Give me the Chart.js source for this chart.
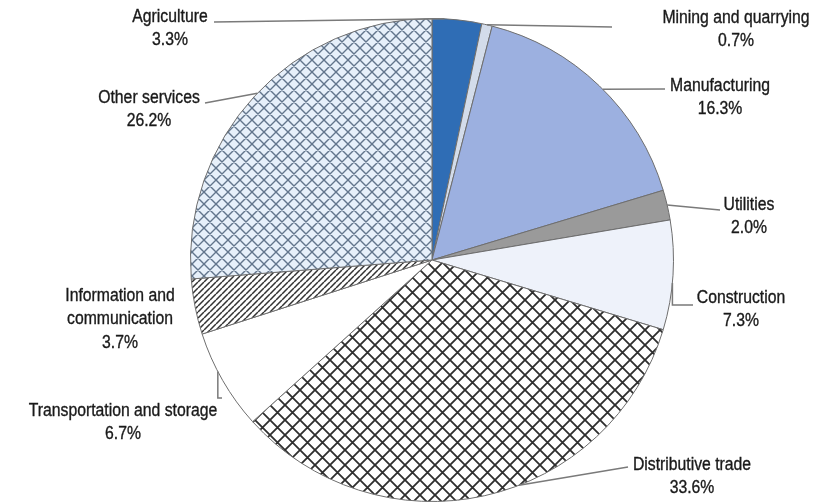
<!DOCTYPE html>
<html>
<head>
<meta charset="utf-8">
<script src="https://cdn.jsdelivr.net/npm/chart.js@4/dist/chart.umd.min.js"></script>
<style>
  html, body { margin: 0; padding: 0; background: #fff; }
  #wrap { width: 828px; height: 504px; }
</style>
</head>
<body>
<div id="wrap"><canvas id="pie" width="828" height="504"></canvas></div>
<script>
// Sector shares of gross value added (%)
const sectors = ["Agriculture", "Mining and quarrying", "Manufacturing", "Utilities", "Construction",
                 "Distributive trade", "Transportation and storage", "Information and communication", "Other services"];
const shares = [3.3, 0.7, 16.3, 2.0, 7.3, 33.6, 6.7, 3.7, 26.2];
const labelLines = [["Agriculture"], ["Mining and quarrying"], ["Manufacturing"], ["Utilities"], ["Construction"],
                    ["Distributive trade"], ["Transportation and storage"], ["Information and", "communication"], ["Other services"]];

// pattern helpers
function crossHatch(size, bg, fg, lw) {
  const c = document.createElement("canvas");
  c.width = size; c.height = size;
  const g = c.getContext("2d");
  g.fillStyle = bg; g.fillRect(0, 0, size, size);
  g.strokeStyle = fg; g.lineWidth = lw;
  g.beginPath();
  for (let k = -1; k <= 1; k++) {
    g.moveTo(k * size, 0); g.lineTo(k * size + size, size);
    g.moveTo(k * size, size); g.lineTo(k * size + size, 0);
  }
  g.stroke();
  return g.createPattern(c, "repeat");
}
function diagHatch(size, bg, fg, lw) {
  const c = document.createElement("canvas");
  c.width = size; c.height = size;
  const g = c.getContext("2d");
  g.fillStyle = bg; g.fillRect(0, 0, size, size);
  g.strokeStyle = fg; g.lineWidth = lw;
  g.beginPath();
  for (let k = -1; k <= 1; k++) {
    g.moveTo(k * size, size); g.lineTo(k * size + size, 0);
  }
  g.stroke();
  return g.createPattern(c, "repeat");
}

const ctx0 = document.getElementById("pie").getContext("2d");
const fills = [
  "#2f6db5",
  "#d3dcea",
  "#9cb0e0",
  "#9a9a9a",
  "#eef2fa",
  crossHatch(15, "#ffffff", "#2e2e2e", 1.8),
  "#ffffff",
  diagHatch(6, "#ffffff", "#333333", 1.5),
  crossHatch(12, "#e7f0fa", "#62758c", 1.4)
];

// label placement: text centre, first line y, leader end near text, position along slice
const labelPos = [
  { x: 170, y: 17, end: [214, 22], frac: 0.25 },
  { x: 736, y: 18, end: [612, 27], frac: 0.5 },
  { x: 720, y: 86, end: [665, 89], frac: 0.52 },
  { x: 749, y: 205, end: [720, 210], frac: 0.5 },
  { x: 741, y: 298, end: [693, 305], frac: 0.57, elbow: true },
  { x: 692, y: 465, end: [628, 467], frac: 0.43 },
  { x: 123, y: 411, end: [222, 398], frac: 0.6, elbow: true },
  { x: 120, y: 296, end: null, frac: 0.5 },
  { x: 149, y: 98, end: [205, 103], frac: 0.51 }
];

const leaderLabels = {
  id: "leaderLabels",
  afterDraw(chart) {
    const ctx = chart.ctx;
    const meta = chart.getDatasetMeta(0);
    const sx = 0.9;
    meta.data.forEach((arc, i) => {
      const p = labelPos[i];
      const a = arc.startAngle + p.frac * (arc.endAngle - arc.startAngle);
      const ax = arc.x + arc.outerRadius * Math.cos(a);
      const ay = arc.y + arc.outerRadius * Math.sin(a);
      ctx.save();
      if (p.end) {
        ctx.strokeStyle = "#7a7a7a";
        ctx.lineWidth = 1.5;
        ctx.beginPath();
        ctx.moveTo(ax, ay);
        if (p.elbow) ctx.lineTo(ax, p.end[1]);
        ctx.lineTo(p.end[0], p.end[1]);
        ctx.stroke();
      }
      // condensed text
      ctx.scale(sx, 1);
      ctx.fillStyle = "#1a1a1a";
      ctx.strokeStyle = "#1a1a1a";
      ctx.lineWidth = 0.35;
      ctx.font = "17.5px 'Liberation Sans', Arial, sans-serif";
      ctx.textAlign = "center";
      ctx.textBaseline = "middle";
      const lines = labelLines[i].concat([shares[i].toFixed(1) + "%"]);
      lines.forEach((t, k) => {
        ctx.fillText(t, p.x / sx, p.y + k * 23.5);
        ctx.strokeText(t, p.x / sx, p.y + k * 23.5);
      });
      ctx.restore();
    });
  }
};

new Chart(ctx0, {
  type: "pie",
  data: {
    labels: sectors,
    datasets: [{
      data: shares,
      backgroundColor: fills,
      borderColor: "#6e6e6e",
      borderWidth: 1
    }]
  },
  options: {
    responsive: false,
    animation: false,
    layout: { padding: { top: 18, bottom: 2, left: 190, right: 154 } },
    plugins: {
      legend: { display: false },
      tooltip: { enabled: false }
    }
  },
  plugins: [leaderLabels]
});
</script>
</body>
</html>
